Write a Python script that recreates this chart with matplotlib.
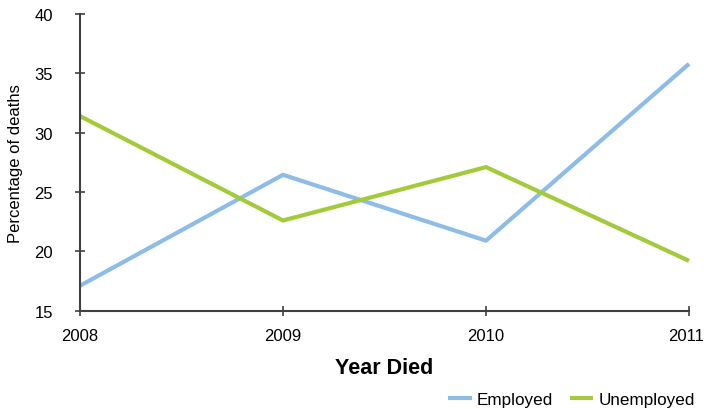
"""Percentage of deaths by employment status, 2008-2011."""

import matplotlib
matplotlib.use('Agg')
import matplotlib.pyplot as plt
import matplotlib.transforms as mtransforms

# ----------------------------------------------------------------------------
# Data

years = ['2008', '2009', '2010', '2011']
employed = [17.1, 26.45, 20.9, 35.8]
unemployed = [31.4, 22.6, 27.1, 19.2]
y_ticks = [15, 20, 25, 30, 35, 40]

# ----------------------------------------------------------------------------
# Plot

plt.rcParams['font.family'] = ['Liberation Sans', 'DejaVu Sans']

fig = plt.figure(figsize=(7.04, 4.10), dpi=100)
ax = fig.add_axes([0.1136, 0.2398, 0.8651, 0.7236])

x = range(len(years))
ax.plot(x, employed, color='#8DBDE6', lw=3.0, label='Employed',
        solid_capstyle='butt', clip_on=False)
ax.plot(x, unemployed, color='#A3CA3A', lw=3.0, label='Unemployed',
        solid_capstyle='butt', clip_on=False)

ax.set_xlim(0, len(years) - 1)
ax.set_ylim(15, 40)
ax.set_xticks(list(x))
ax.set_xticklabels(years)
ax.set_yticks(y_ticks)

for side in ('top', 'right'):
    ax.spines[side].set_visible(False)
for side in ('left', 'bottom'):
    ax.spines[side].set_color('#404040')
    ax.spines[side].set_linewidth(1.5)

ax.tick_params(direction='inout', length=7, width=1.2, color='#404040',
               labelsize=12)
ax.tick_params(axis='y', pad=16)
ax.tick_params(axis='x', pad=9)

# last year label sits against the right edge, nudge it in a bit
last = ax.get_xticklabels()[-1]
last.set_transform(last.get_transform() + mtransforms.ScaledTranslation(
    -0.03, 0, fig.dpi_scale_trans))

ax.set_xlabel('Year Died', fontsize=15.5, fontweight='bold')
ax.xaxis.set_label_coords(0.5, -0.155)
ax.set_ylabel('Percentage of deaths', fontsize=12)
ax.yaxis.set_label_coords(-0.094, 0.5)

ax.legend(loc='center right', bbox_to_anchor=(1.035, -0.30), ncol=2,
          frameon=False, fontsize=12.3, handlelength=1.4, handletextpad=0.3,
          columnspacing=0.95)

fig.savefig('out.png', dpi=100)
